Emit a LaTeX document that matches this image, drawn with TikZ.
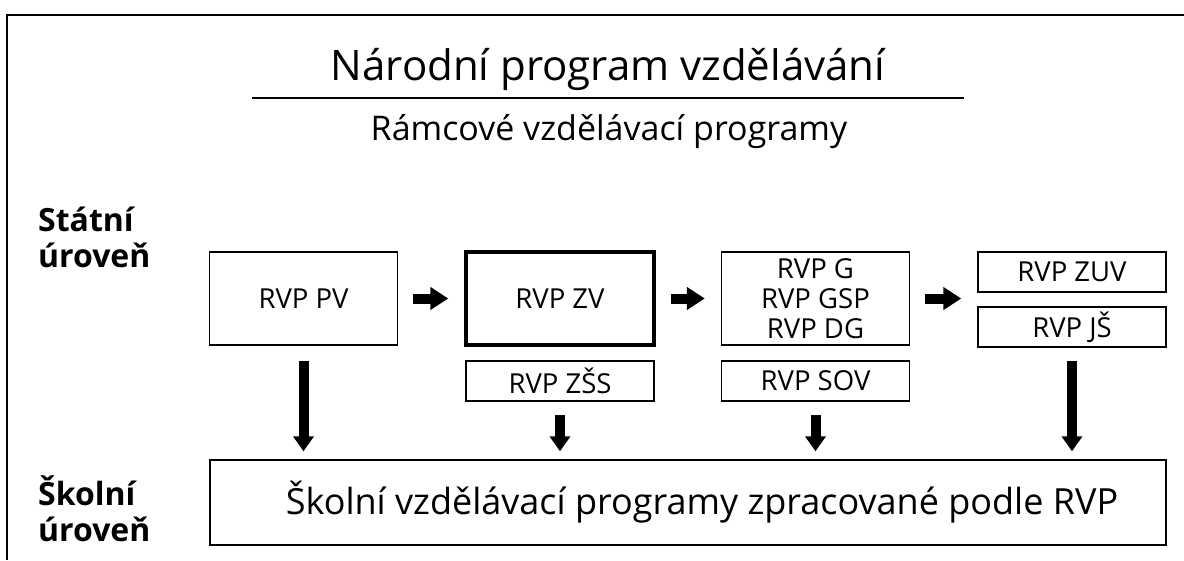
\documentclass[tikz,border=0pt]{standalone}
\usepackage{fontspec}
\setmainfont{Open Sans}
\usetikzlibrary{arrows.meta}
\begin{document}
\begin{tikzpicture}[x=1pt,y=-1pt,
  box/.style={draw, line width=1.4pt, inner sep=0pt, align=center,
    font=\fontsize{27.5}{30}\selectfont},
  mainbox/.style={box, minimum width=188pt, minimum height=93pt},
  smallbox/.style={box, minimum width=188pt, minimum height=40pt},
  harrow/.style={line width=10pt, -{Triangle[width=22pt,length=18pt]}},
  varrow/.style={line width=10pt, -{Triangle[width=20pt,length=15pt]}},
  level/.style={anchor=base west, inner sep=0pt, font=\bfseries\fontsize{32}{36}\selectfont},
  heading/.style={anchor=base, font=\fontsize{42}{50}\selectfont},
  subheading/.style={anchor=base, font=\fontsize{34}{40}\selectfont}
]
\useasboundingbox (0,0) rectangle (1184,560);
\fill[white] (0,0) rectangle (1184,560);

% outer frame (top and left edges)
\draw[line width=2pt] (1184,15) -- (7,15) -- (7,560);

% headings
\node[heading] (title) at (608,80) {Národní program vzdělávání};
\draw[line width=1.2pt] (252,98) -- (964,98);
\node[subheading] (sub) at (609,140) {Rámcové vzdělávací programy};

% level labels
\node[level] (st1) at (38,231) {Státní};
\node[level] (st2) at (38,267) {úroveň};
\node[level] (sk1) at (38,505) {Školní};
\node[level] (sk2) at (38,541) {úroveň};

% state level programmes
\node[mainbox] (pv) at (303.5,298.5) {RVP PV};
\node[mainbox, line width=3.5pt] (zv) at (560,298.5) {RVP ZV};
\node[mainbox] (g) at (815.5,298.5) {RVP G\\RVP GSP\\RVP DG};
\node[smallbox] (zuv) at (1072,272) {RVP ZUV};
\node[smallbox] (js) at (1072,327) {RVP JŠ};
\node[smallbox] (zss) at (560,381) {RVP ZŠS};
\node[smallbox] (sov) at (815.5,381) {RVP SOV};

% school level
\node[box, minimum width=956pt, minimum height=85pt,
      font=\fontsize{36}{42}\selectfont] (skol) at (688,502.5)
  {\hspace*{28pt}Školní vzdělávací programy zpracované podle RVP};

% sequence arrows
\draw[harrow, shorten <=15pt, shorten >=16pt] (pv.east) -- (zv.west);
\draw[harrow, shorten <=15pt, shorten >=16pt] (zv.east) -- (g.west);
\draw[harrow, shorten <=15pt, shorten >=16pt] (g.east) -- (g.east -| zuv.west);

% arrows down to the school level
\draw[varrow, shorten <=15pt, shorten >=8pt] (pv.south) -- (pv.south |- skol.north);
\draw[varrow, shorten <=13pt, shorten >=8pt] (zss.south) -- (zss.south |- skol.north);
\draw[varrow, shorten <=13pt, shorten >=8pt] (sov.south) -- (sov.south |- skol.north);
\draw[varrow, shorten <=13pt, shorten >=8pt] (js.south) -- (js.south |- skol.north);
\end{tikzpicture}
\end{document}
